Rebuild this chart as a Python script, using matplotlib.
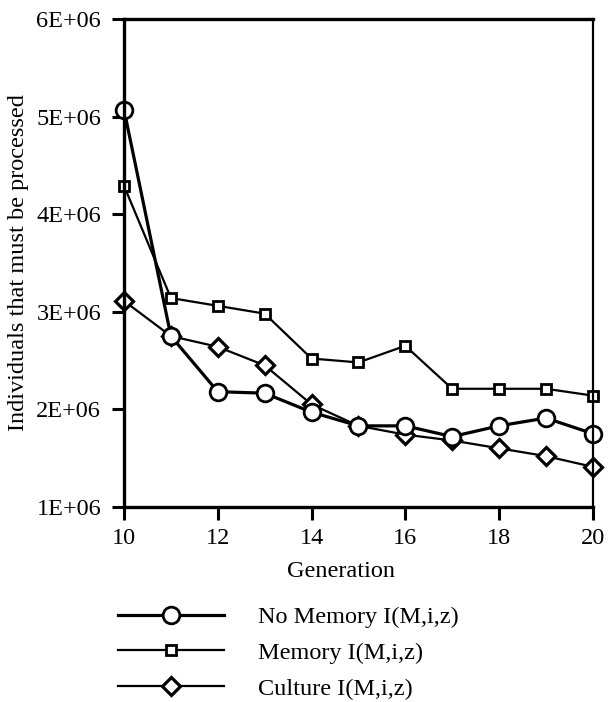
import matplotlib
matplotlib.use("Agg")
import matplotlib.pyplot as plt
import matplotlib.ticker as mticker

generations = [10, 11, 12, 13, 14, 15, 16, 17, 18, 19, 20]
no_memory = [5.07e6, 2.75e6, 2.18e6, 2.165e6, 1.97e6, 1.83e6, 1.83e6, 1.72e6, 1.83e6, 1.91e6, 1.75e6]
memory = [4.29e6, 3.14e6, 3.06e6, 2.98e6, 2.52e6, 2.48e6, 2.65e6, 2.21e6, 2.21e6, 2.21e6, 2.14e6]
culture = [3.11e6, 2.75e6, 2.64e6, 2.45e6, 2.05e6, 1.83e6, 1.74e6, 1.68e6, 1.60e6, 1.52e6, 1.41e6]

y_ticks = [1e6, 2e6, 3e6, 4e6, 5e6, 6e6]
x_ticks = [10, 12, 14, 16, 18, 20]

plt.rcParams["font.family"] = ["Liberation Serif", "DejaVu Serif"]
FS = 17.5

fig = plt.figure(figsize=(6.08, 7.02), dpi=100)
ax = fig.add_axes([0.204, 0.278, 0.771, 0.695])

l1, = ax.plot(generations, no_memory, color="black", linewidth=2.3, marker="o",
              markersize=12, markerfacecolor="white", markeredgewidth=2, zorder=4,
              label="No Memory I(M,i,z)")
l2, = ax.plot(generations, memory, color="black", linewidth=1.6, marker="s",
              markersize=7.8, markerfacecolor="white", markeredgewidth=2, zorder=2,
              label="Memory I(M,i,z)")
l3, = ax.plot(generations, culture, color="black", linewidth=1.6, marker="D",
              markersize=9.3, markerfacecolor="white", markeredgewidth=2.3, zorder=3,
              label="Culture I(M,i,z)")

ax.set_xlim(10, 20)
ax.set_ylim(1e6, 6e6)
ax.xaxis.set_major_locator(mticker.FixedLocator(x_ticks))
ax.yaxis.set_major_locator(mticker.FixedLocator(y_ticks))
ax.yaxis.set_major_formatter(mticker.FuncFormatter(lambda v, _p: f"{v:.0E}"))
ax.tick_params(axis="both", direction="out", length=9, width=2.2, labelsize=FS, pad=6)
ax.tick_params(axis="y", pad=7.5)

for side in ["left", "bottom", "top"]:
    ax.spines[side].set_linewidth(2.4)
ax.spines["right"].set_linewidth(1.6)
for sp in ax.spines.values():
    sp.set_zorder(5)
    sp.set_clip_on(False)
for line in (l1, l2, l3):
    line.set_clip_on(False)

ax.set_ylabel("Individuals that must be processed", fontsize=FS)
ax.yaxis.set_label_coords(-0.203, 0.5)
ax.set_xlabel("Generation", fontsize=FS)
ax.xaxis.set_label_coords(0.463, -0.112)

fig.legend(handles=[l1, l2, l3], loc="upper left", bbox_to_anchor=(0.178, 0.1505),
           frameon=False, fontsize=FS, handlelength=4.35, handletextpad=1.4,
           labelspacing=0.57, borderaxespad=0)

fig.savefig("out.png", dpi=100)
